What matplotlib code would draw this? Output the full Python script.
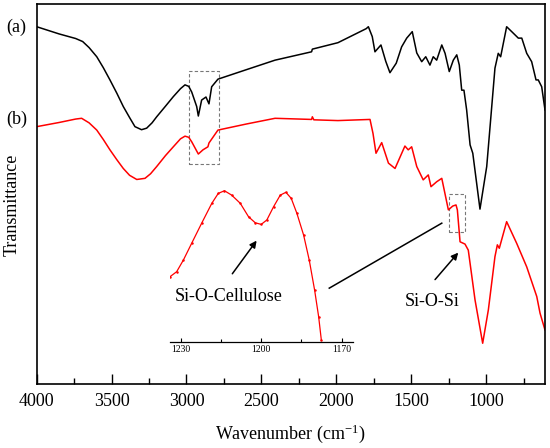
import numpy as np
import matplotlib
matplotlib.use("Agg")
import matplotlib.pyplot as plt
from matplotlib.ticker import MultipleLocator, NullLocator
from matplotlib.patches import Rectangle

plt.rcParams['font.family'] = ['Liberation Serif', 'DejaVu Serif']
plt.rcParams['mathtext.fontset'] = 'custom'
plt.rcParams['mathtext.rm'] = 'Liberation Serif'
plt.rcParams['mathtext.it'] = 'Liberation Serif:italic'

# spectrum (a), black
wn_a = [4000, 3850, 3740, 3693, 3650, 3599, 3555, 3511, 3465, 3422, 3380,
        3344, 3300, 3266, 3230, 3199, 3140, 3088, 3040, 3010,
        2985, 2965, 2932, 2921, 2899, 2870, 2850, 2832, 2790, 2600, 2409, 2165,
        2160, 1989, 1800, 1786, 1760, 1742, 1702, 1670, 1642, 1600, 1564, 1530,
        1493, 1463, 1430,
        1403, 1375, 1353, 1330, 1296, 1274, 1246, 1219, 1196, 1179, 1163,
        1148, 1130, 1107, 1089, 1041, 996, 941, 919, 903, 863, 829, 785,
        762, 729, 696, 667, 652, 629, 607]
tr_a = [94.1, 92.2, 91.0, 90.2, 88.6, 86.2, 83.3, 80.1, 76.6, 73.1, 70.2,
        67.8, 67.0, 67.4, 68.8, 70.4, 73.2, 75.7, 77.8, 78.8,
        78.4, 76.9, 73.1, 70.6, 74.8, 75.6, 73.8, 78.3, 80.3, 82.8, 85.3, 87.5,
        88.2, 89.9, 93.6, 94.1, 91.5, 87.5, 89.3, 85.0, 82.0, 84.5, 88.8, 91.1,
        92.8, 87.2, 84.9,
        86.2, 84.0, 86.2, 85.3, 89.3, 87.1, 82.3, 85.3, 86.7, 84.0, 77.4,
        77.4, 72.2, 63.0, 60.8, 46.1, 57.3, 83.2, 87.1, 86.2, 94.1, 92.8, 91.1,
        91.1, 87.1, 84.9, 80.1, 80.1, 78.3, 72.2]

# spectrum (b), red
wn_b = [4000, 3850, 3740, 3700, 3650, 3599, 3555, 3511, 3465, 3422, 3380,
        3332, 3277, 3240, 3199, 3140, 3088, 3040, 3010,
        2985, 2965, 2921, 2890, 2857, 2850, 2790, 2600, 2409, 2165, 2160, 2150,
        1989, 1775, 1755, 1735, 1697, 1652, 1608, 1542, 1520, 1497, 1463, 1420,
        1386, 1368, 1330, 1296, 1252, 1223, 1201, 1192, 1174, 1141, 1119,
        1074, 1023, 985, 941, 925, 912, 863, 796, 729, 662, 640, 607]
tr_b = [67.8, 68.9, 69.8, 70.0, 68.8, 66.9, 64.4, 61.7, 59.1, 56.8, 55.0,
        53.9, 54.2, 55.4, 57.3, 60.2, 62.5, 64.6, 65.3,
        65.0, 63.8, 60.6, 61.7, 62.5, 63.5, 66.9, 68.5, 70.0, 69.7, 70.4, 69.6,
        69.4, 69.7, 66.0, 60.8, 63.6, 58.2, 56.8, 62.7, 61.7, 62.5, 57.3, 53.8,
        55.1, 52.0, 53.3, 54.2, 45.9, 46.9, 47.2, 45.9, 37.5, 36.9, 35.3,
        22.2, 10.8, 19.6, 33.6, 36.7, 35.8, 42.8, 37.1, 30.9, 23.1, 18.7, 14.3]

# inset: zoom of (b) around 1200 cm-1
wn_in = [1234.0, 1231.5, 1229.0, 1225.9, 1222.2, 1218.4, 1216.0, 1213.7,
         1211.0, 1207.8, 1204.7, 1202.2, 1200.0, 1197.9, 1195.4, 1192.9,
         1190.8, 1188.8, 1186.7, 1184.2, 1182.1, 1180.1, 1178.6, 1177.6]
tr_in = [41.7, 44.9, 52.3, 63.0, 75.7, 88.4, 94.7, 96.4, 93.6, 88.4, 79.8,
         76.0, 75.0, 77.8, 86.2, 93.6, 95.4, 91.5, 82.0, 68.2, 52.3, 33.2,
         16.3, 1.5]

fig = plt.figure(figsize=(5.5, 4.48), dpi=100)
ax = fig.add_axes([0.0667, 0.1422, 0.9242, 0.8482])

ax.plot(wn_a, tr_a, color='black', lw=1.1)
ax.plot(wn_b, tr_b, color='red', lw=1.1)

ax.set_xlim(4000, 607)
ax.set_ylim(0, 100)
ax.xaxis.set_major_locator(MultipleLocator(500))
ax.xaxis.set_minor_locator(MultipleLocator(250))
ax.yaxis.set_major_locator(NullLocator())
ax.tick_params(axis='x', which='major', direction='in', length=7, width=1, labelsize=13, pad=6)
ax.tick_params(axis='x', which='minor', direction='in', length=4, width=1)
for s in ax.spines.values():
    s.set_linewidth(1.2)

ax.set_xlabel('Wavenumber (cm$^{-1}$)', fontsize=13, labelpad=9)
fig.text(0.022, 0.5435, 'Transmittance', rotation=90, fontsize=13, ha='center', va='center')
fig.text(0.03, 0.940, '(a)', fontsize=13, ha='center', va='center')
fig.text(0.03, 0.734, '(b)', fontsize=13, ha='center', va='center')

# dashed boxes
ax.add_patch(Rectangle((2981, 57.9), 2783 - 2981, 82.4 - 57.9, fill=False,
                       ls=(0, (3, 2)), lw=0.8, ec='#777777'))
ax.add_patch(Rectangle((1246, 40.0), 1143 - 1246, 50.1 - 40.0, fill=False,
                       ls=(0, (3, 2)), lw=0.8, ec='#777777'))

# annotations
ax.annotate('', xy=(2521, 38.4), xytext=(2705, 28.5),
            arrowprops=dict(arrowstyle='-|>', color='black', lw=1.1, mutation_scale=10))
ax.text(2716, 23.0, 'Si-O-Cellulose', fontsize=13, ha='center', va='center')
ax.plot([2047, 1296], [25.3, 42.4], color='black', lw=1.1)
ax.annotate('', xy=(1174, 35.2), xytext=(1353, 27.0),
            arrowprops=dict(arrowstyle='-|>', color='black', lw=1.1, mutation_scale=10))
ax.text(1358, 21.9, 'Si-O-Si', fontsize=13, ha='center', va='center')

# inset
axin = fig.add_axes([0.309, 0.2359, 0.3333, 0.351])
axin.patch.set_alpha(0)
axin.plot(wn_in, tr_in, color='red', lw=0.9, marker='o', ms=0.8)
axin.set_xlim(1234, 1165.7)
axin.set_ylim(0, 100)
for side in ['top', 'left', 'right']:
    axin.spines[side].set_visible(False)
axin.spines['bottom'].set_linewidth(0.9)
axin.xaxis.set_major_locator(MultipleLocator(30))
axin.xaxis.set_minor_locator(MultipleLocator(15))
axin.yaxis.set_major_locator(NullLocator())
axin.tick_params(axis='x', which='major', direction='in', length=3, width=0.8, labelsize=7, pad=2)
axin.tick_params(axis='x', which='minor', direction='in', length=2, width=0.8)

fig.savefig('out.png', dpi=100)
